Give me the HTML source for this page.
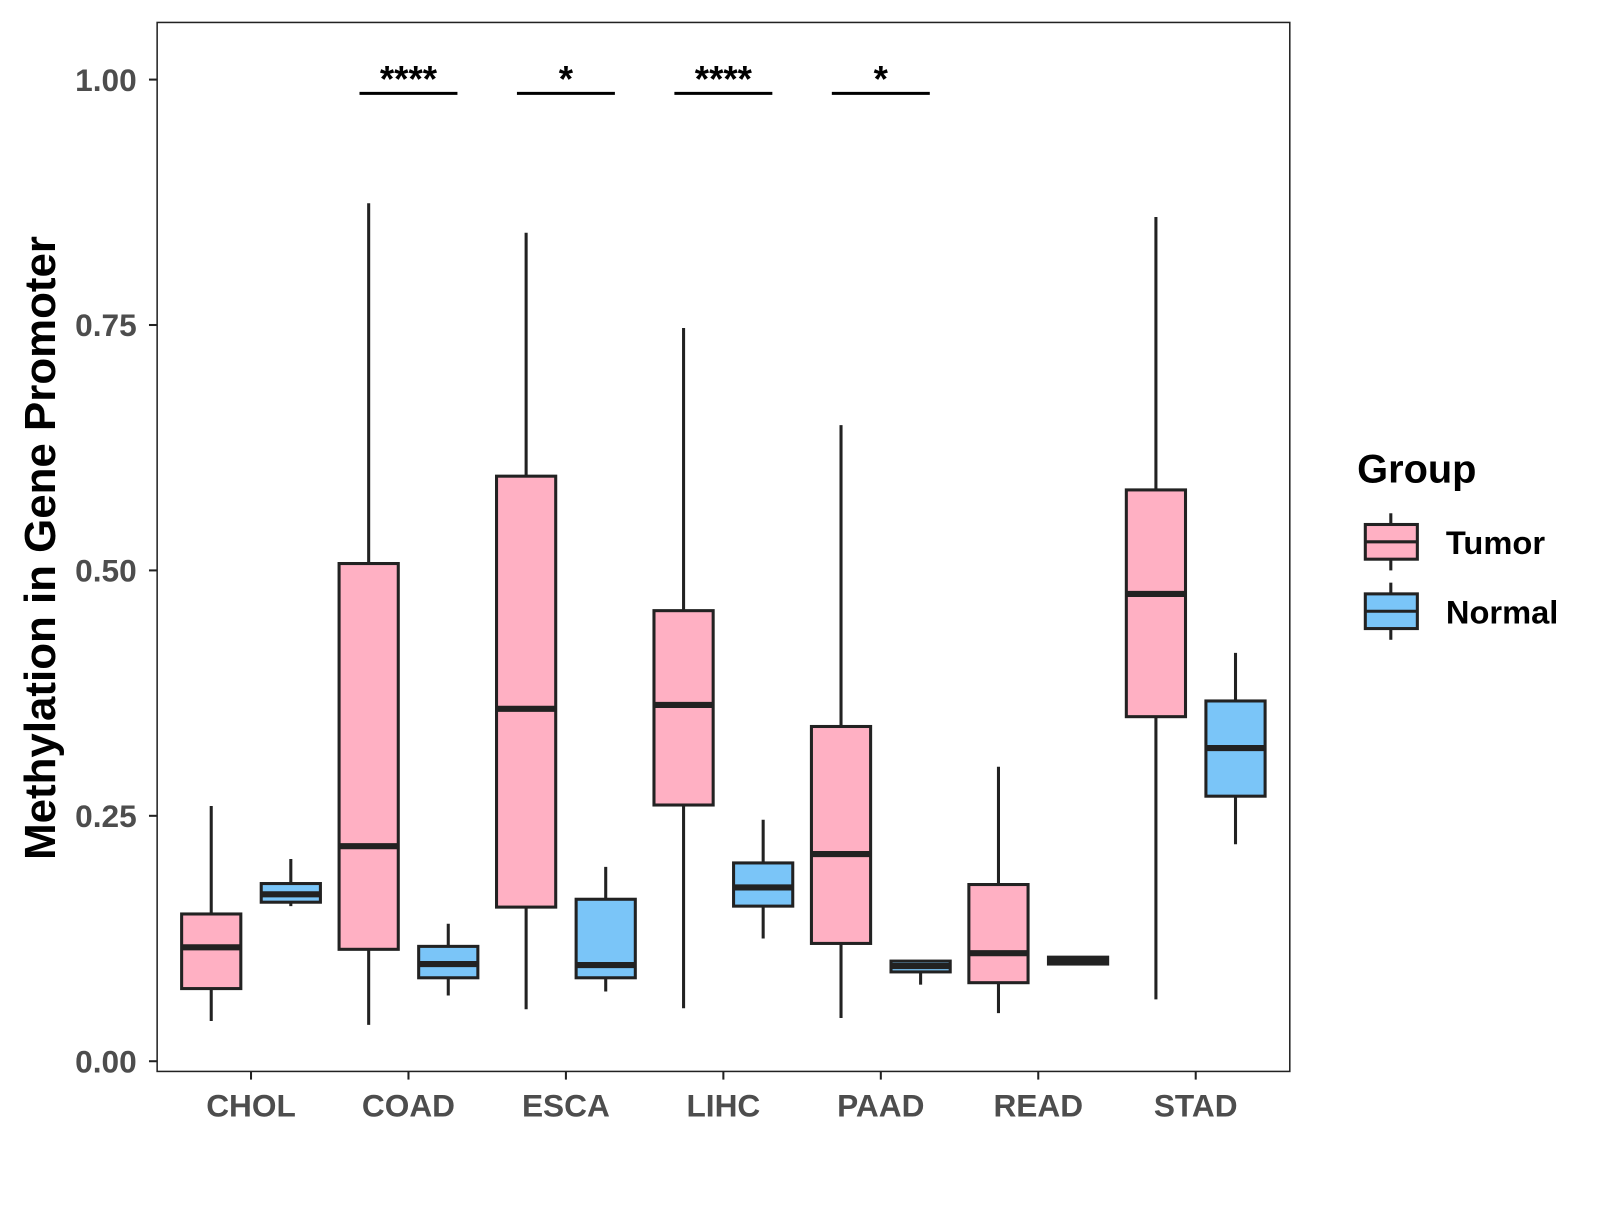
<!DOCTYPE html>
<html><head><meta charset="utf-8"><style>
html,body{margin:0;padding:0;background:#fff;}
svg text{font-family:"Liberation Sans",Arial,sans-serif;font-weight:bold;}
</style></head><body>
<svg id="chart" width="1600" height="1200" viewBox="0 0 1568 1176" xmlns="http://www.w3.org/2000/svg">
<rect x="154" y="22" width="1110" height="1028" fill="#fff" stroke="#222" stroke-width="1.5"/>
<text transform="translate(54,537) rotate(-90)" text-anchor="middle" font-size="43" fill="#000">Methylation in Gene Promoter</text>
<g>
<text x="1330" y="473" font-size="39" fill="#000">Group</text>
<g>
<line x1="1363" y1="503" x2="1363" y2="559" stroke="#222" stroke-width="3"/>
<rect x="1338" y="514" width="51" height="34" fill="#FFB0C3" stroke="#222" stroke-width="3"/>
<line x1="1338" y1="531" x2="1389" y2="531" stroke="#222" stroke-width="3"/>
<text x="1417" y="543" font-size="32" fill="#000">Tumor</text></g>
<g>
<line x1="1363" y1="571" x2="1363" y2="627" stroke="#222" stroke-width="3"/>
<rect x="1338" y="582" width="51" height="34" fill="#7AC5F8" stroke="#222" stroke-width="3"/>
<line x1="1338" y1="599" x2="1389" y2="599" stroke="#222" stroke-width="3"/>
<text x="1417" y="611" font-size="32" fill="#000">Normal</text></g>
</g>
<g id="marks"></g>
</svg>
<script>
const categories=["CHOL","COAD","ESCA","LIHC","PAAD","READ","STAD"];
// [whisker top, Q3, median, Q1, whisker low]
const tumor=[[0.26,0.150,0.116,0.074,0.041],[0.874,0.507,0.219,0.114,0.037],[0.844,0.596,0.359,0.157,0.053],[0.747,0.459,0.363,0.261,0.054],[0.648,0.341,0.211,0.120,0.044],[0.300,0.180,0.110,0.080,0.049],[0.860,0.582,0.476,0.351,0.063]];
const normal=[[0.206,0.181,0.170,0.162,0.158],[0.140,0.117,0.099,0.085,0.067],[0.198,0.165,0.098,0.085,0.071],[0.246,0.202,0.177,0.158,0.125],[0.102,0.102,0.097,0.091,0.078],[0.107,0.106,0.103,0.099,0.098],[0.416,0.367,0.319,0.270,0.221]];
const yTicks=[0,0.25,0.5,0.75,1.0];
const yTickLabels=["0.00","0.25","0.50","0.75","1.00"];
const sigCats=["COAD","ESCA","LIHC","PAAD"];
const sigLabels=["****","*","****","*"];
const sigLevel=0.987;

const NS="http://www.w3.org/2000/svg";
const g=document.getElementById("marks");
const y=v=>1040-v*962;
const x=i=>246+i*154.3;
function el(t,a,p){const e=document.createElementNS(NS,t);for(const k in a)e.setAttribute(k,a[k]);(p||g).appendChild(e);return e;}

yTicks.forEach((t,i)=>{
  const ln=el("line",{x1:146,x2:154,y1:y(t),y2:y(t),stroke:"#222","stroke-width":2});
  
  
  const tx=el("text",{x:134,y:y(t)+11,"text-anchor":"end","font-size":31,fill:"#4d4d4d"});
  tx.textContent=yTickLabels[i];
  
  
});
categories.forEach((c,i)=>{
  const ln=el("line",{x1:x(i),x2:x(i),y1:1050,y2:1058,stroke:"#222","stroke-width":2});
  
  
  const tx=el("text",{x:x(i),y:1094,"text-anchor":"middle","font-size":31,fill:"#4d4d4d"});
  tx.textContent=c;
  
  
});
function box(cx,d,fill,name){
  const gg=el("g",{});
  
  
  el("line",{x1:cx,x2:cx,y1:y(d[0]),y2:y(d[4]),stroke:"#222","stroke-width":3},gg);
  el("rect",{x:cx-29,y:y(d[1]),width:58,height:Math.max(y(d[3])-y(d[1]),1),fill:fill,stroke:"#222","stroke-width":3},gg);
  el("line",{x1:cx-29,x2:cx+29,y1:y(d[2]),y2:y(d[2]),stroke:"#222","stroke-width":6},gg);
}
categories.forEach((c,i)=>{
  box(x(i)-39,tumor[i],"#FFB0C3","box-tumor-"+c.toLowerCase());
  box(x(i)+39,normal[i],"#7AC5F8","box-normal-"+c.toLowerCase());
});
sigCats.forEach((c,j)=>{
  const i=categories.indexOf(c);
  const ln=el("line",{x1:x(i)-48,x2:x(i)+48,y1:y(sigLevel)+1,y2:y(sigLevel)+1,stroke:"#000","stroke-width":3});
  
  
  const tx=el("text",{x:x(i),y:y(sigLevel)-1,"text-anchor":"middle","font-size":36,fill:"#000"});
  tx.textContent=sigLabels[j];
  
  
});
</script>
</body></html>
